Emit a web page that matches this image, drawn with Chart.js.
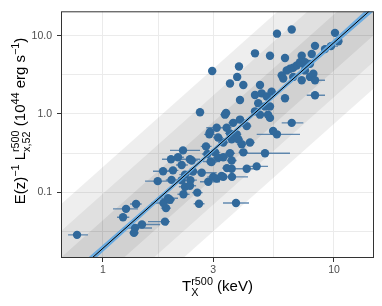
<!DOCTYPE html>
<html>
<head>
<meta charset="utf-8">
<script src="https://cdn.jsdelivr.net/npm/chart.js@4.4.1/dist/chart.umd.min.js"></script>
<style>
  html, body { margin: 0; padding: 0; background: #fff; }
  #wrap { width: 382px; height: 306px; }
</style>
</head>
<body>
<div id="wrap"><canvas id="lxt"></canvas></div>
<script>
// axis breaks (ggplot style: majors labelled, minors grid only)
const xTicks = [1, 3, 10];
const xMinorTicks = [1.732, 5.477];
const yTicks = [0.1, 1, 10];
const yMinorTicks = [0.0316, 0.316, 3.162];

// clusters: temperature (keV), luminosity, and T error bar ends
const tempKeV = [0.772, 1.221, 1.258, 1.390, 1.376, 1.362, 1.475, 1.855, 1.874, 1.827,
  1.950, 1.725, 1.820, 1.970, 2.009, 1.980, 2.112, 2.380, 2.220, 2.191,
  2.265, 2.453, 2.675, 2.390, 2.265, 2.380, 2.560, 2.230, 1.913, 2.604,
  2.792, 2.830, 2.886, 2.925, 2.855, 3.106, 2.970, 2.630, 3.106, 2.906,
  3.150, 3.546, 4.050, 4.783, 3.918, 4.550, 4.860, 5.113, 5.370, 4.700,
  5.027, 4.783, 5.180, 5.284, 3.374, 3.918, 3.660, 4.190, 3.430, 3.546,
  3.790, 3.607, 3.850, 3.985, 3.317, 4.329, 3.054, 3.546, 4.050, 3.317,
  3.150, 2.950, 5.027, 5.660, 2.421, 3.607, 4.190, 4.628, 3.317, 3.607,
  3.000, 2.191, 3.408, 3.765, 3.618, 3.440, 3.260, 4.550, 5.284, 6.137,
  7.249, 8.275, 9.142, 9.706, 10.10, 10.45, 7.370, 7.873, 6.896, 6.660,
  7.127, 6.450, 6.241, 5.938, 6.030, 6.660, 7.492, 7.873, 8.140, 8.275,
  6.137, 8.275, 6.561, 5.284, 4.550, 5.450, 3.879, 3.810, 5.666, 6.561,
  8.009, 7.492, 7.249];
const lumX = [0.0284, 0.0478, 0.0611, 0.0706, 0.0348, 0.0301, 0.0385, 0.0419, 0.0625, 0.0727,
  0.0798, 0.1383, 0.185, 0.264, 0.190, 0.1436, 0.280, 0.264, 0.342, 0.222,
  0.1674, 0.1837, 0.177, 0.1423, 0.1173, 0.1207, 0.0986, 0.0938, 0.0836, 0.0709,
  0.385, 0.308, 0.549, 0.247, 0.1355, 0.149, 3.55, 1.05, 0.667, 0.589,
  0.499, 2.455, 2.35, 2.35, 1.513, 1.749, 1.837, 1.67, 1.93, 1.375,
  1.25, 0.98, 0.98, 0.891, 0.98, 0.848, 0.77, 0.70, 0.667, 0.565,
  0.549, 0.475, 0.475, 0.411, 0.432, 0.432, 0.323, 0.314, 0.323, 0.280,
  0.276, 0.242, 0.314, 0.549, 0.254, 0.254, 0.199, 0.2136, 0.1567, 0.199,
  0.1567, 0.1423, 1.029, 0.0727, 0.1567, 0.203, 0.1612, 5.97, 5.57, 5.21,
  5.57, 7.44, 6.76, 7.38, 10.91, 8.53, 4.38, 4.38, 4.17, 3.90,
  4.60, 3.79, 3.61, 3.12, 2.84, 2.98, 3.61, 2.98, 3.28, 2.70,
  1.59, 1.734, 0.77, 1.25, 1.081, 0.606, 4.05, 2.98, 10.66, 12.07,
  5.85, 4.60, 2.70];
const tempLo = [0.706, 1.15, 1.105, 1.31, 1.22, 1.30, 1.404, 1.566, 1.78, 1.62,
  1.86, 1.520, 1.646, 1.800, 1.90, 1.87, 2.00, 2.05, 1.95, 2.07,
  2.14, 2.31, 2.553, 2.25, 2.13, 2.24, 2.43, 2.10, 1.730, 2.47,
  2.65, 2.68, 2.74, 2.71, 2.63, 2.95, 2.86, 2.53, 2.80, 2.78,
  3.00, 3.42, 3.90, 4.60, 3.77, 4.38, 4.68, 4.92, 5.17, 4.52,
  4.84, 4.60, 4.99, 5.09, 3.22, 3.74, 3.49, 4.00, 3.27, 3.38,
  3.62, 3.44, 3.67, 3.80, 3.15, 4.13, 2.89, 3.37, 3.86, 3.15,
  2.99, 2.80, 4.118, 4.628, 2.28, 3.43, 3.728, 4.24, 3.10, 3.43,
  2.83, 2.06, 3.26, 3.307, 3.307, 3.28, 3.11, 4.42, 5.13, 5.96,
  7.04, 8.04, 8.88, 9.142, 9.81, 10.15, 7.16, 7.65, 6.70, 6.47,
  6.92, 6.27, 6.06, 5.77, 5.86, 6.47, 7.28, 7.65, 7.91, 7.873,
  5.96, 7.619, 5.938, 5.13, 4.42, 5.29, 3.77, 3.70, 5.50, 6.37,
  7.78, 7.28, 7.04];
const tempHi = [0.861, 1.30, 1.418, 1.47, 1.63, 1.43, 1.765, 1.95, 1.97, 2.00,
  2.05, 1.989, 2.050, 2.265, 2.12, 2.10, 2.24, 2.63, 2.63, 2.33,
  2.41, 2.61, 3.106, 2.55, 2.41, 2.53, 2.70, 2.37, 2.112, 2.75,
  2.95, 2.99, 3.05, 3.21, 3.21, 3.28, 3.09, 2.74, 3.37, 3.04,
  3.31, 3.68, 4.21, 4.97, 4.07, 4.73, 5.05, 5.31, 5.58, 4.89,
  5.22, 4.97, 5.38, 5.49, 3.54, 4.11, 3.84, 4.39, 3.60, 3.72,
  3.97, 3.78, 4.04, 4.18, 3.49, 4.54, 3.22, 3.73, 4.25, 3.49,
  3.32, 3.11, 6.45, 7.127, 2.57, 3.79, 4.55, 5.18, 3.55, 3.79,
  3.18, 2.33, 3.56, 4.286, 4.243, 3.61, 3.42, 4.69, 5.44, 6.32,
  7.46, 8.52, 9.41, 10.41, 10.4, 10.76, 7.59, 8.10, 7.10, 6.86,
  7.34, 6.64, 6.43, 6.11, 6.21, 6.86, 7.72, 8.10, 8.38, 9.142,
  6.32, 9.142, 7.37, 5.44, 4.69, 5.61, 3.99, 3.92, 5.84, 6.76,
  8.25, 7.72, 7.46];

// best-fit relation, its confidence ribbon and the 1/2/3 sigma scatter bands
const fitT = [0.6, 16];
const fitL = [0.00499, 28.3];
const band1Up = [0.01143, 64.9];
const band1Lo = [0.00218, 12.36];
const band2Up = [0.0250, 141.9];
const band2Lo = [0.000995, 5.65];
const band3Up = [0.0547, 310.5];
const band3Lo = [0.000455, 2.58];
const ciT = [0.6, 1, 2, 3.5, 6, 10, 16];
const ciUp = [0.00573, 0.02123, 0.1272, 0.5479, 2.296, 9.057, 32.14];
const ciLo = [0.00435, 0.01726, 0.1108, 0.4904, 2.000, 7.464, 24.95];

const FONT = '"Liberation Sans", Arial, sans-serif';
Chart.defaults.font.family = FONT;

const pairs = (xs, ys) => xs.map((x, i) => ({ x: x, y: ys[i] }));

// horizontal error bars as one broken line (null y = gap)
const errSegs = [];
tempKeV.forEach((t, i) => {
  errSegs.push({ x: tempLo[i], y: lumX[i] });
  errSegs.push({ x: tempHi[i], y: lumX[i] });
  errSegs.push({ x: t, y: null });
});

const hidden = { borderColor: 'transparent', borderWidth: 0, pointRadius: 0 };

function band(up, lo, fillColor, order) {
  return [
    { ...hidden, data: pairs(fitT, up), fill: '+1', backgroundColor: fillColor, order: order },
    { ...hidden, data: pairs(fitT, lo), fill: false, order: order },
  ];
}

// draws T^r500_X style text: runs of plain text or stacked sup/sub
function richText(ctx, runs, size, cx, baseY) {
  const small = size * 0.72;
  const big = size + 'px ' + FONT;
  const sm = small + 'px ' + FONT;
  let total = 0;
  const widths = runs.map(r => {
    let w;
    if (r.t !== undefined) { ctx.font = big; w = ctx.measureText(r.t).width; }
    else {
      ctx.font = sm;
      w = Math.max(r.sup ? ctx.measureText(r.sup).width : 0, r.sub ? ctx.measureText(r.sub).width : 0);
    }
    total += w;
    return w;
  });
  let x = cx - total / 2;
  ctx.fillStyle = '#000';
  ctx.textBaseline = 'alphabetic';
  ctx.textAlign = 'left';
  runs.forEach((r, i) => {
    if (r.t !== undefined) { ctx.font = big; ctx.fillText(r.t, x, baseY); }
    else {
      ctx.font = sm;
      if (r.sup) ctx.fillText(r.sup, x, baseY - size * 0.42);
      if (r.sub) ctx.fillText(r.sub, x, baseY + size * 0.3);
    }
    x += widths[i];
  });
}

const frameAndTitles = {
  id: 'frameAndTitles',
  afterDraw(chart) {
    const { ctx, chartArea: a } = chart;
    ctx.save();
    ctx.strokeStyle = '#333333';
    ctx.lineWidth = 1;
    ctx.strokeRect(a.left + 0.5, a.top + 0.5, a.right - a.left - 1, a.bottom - a.top - 1);

    richText(ctx, [{ t: 'T' }, { sup: 'r500', sub: 'X' }, { t: ' (keV)' }], 15, (a.left + a.right) / 2, 291);

    ctx.translate(25, 121);
    ctx.rotate(-Math.PI / 2);
    richText(ctx, [
      { t: 'E(z)' }, { sup: '\u22121' }, { t: ' L' }, { sup: 'r500', sub: 'x,52' },
      { t: ' (10' }, { sup: '44' }, { t: ' erg s' }, { sup: '\u22121' }, { t: ')' },
    ], 15, 0, 0);
    ctx.restore();
  },
};

function setTicks(major, minor) {
  return scale => {
    scale.ticks = major.concat(minor).sort((a, b) => a - b).map(v => ({ value: v }));
  };
}

new Chart(document.getElementById('lxt'), {
  type: 'line',
  data: {
    datasets: [
      ...band(band3Up, band3Lo, 'rgba(0,0,0,0.067)', 10),
      ...band(band2Up, band2Lo, 'rgba(0,0,0,0.059)', 9),
      ...band(band1Up, band1Lo, 'rgba(0,0,0,0.071)', 8),
      {
        data: errSegs, borderColor: 'rgba(62,112,160,0.8)', borderWidth: 1.4,
        pointRadius: 0, spanGaps: false, order: 7,
      },
      {
        data: pairs(tempKeV, lumX), showLine: false, pointRadius: 4.2,
        pointBackgroundColor: '#31699b', pointBorderWidth: 0, order: 6,
      },
      { ...hidden, data: pairs(ciT, ciUp), fill: '+1', backgroundColor: 'rgba(98,168,226,0.92)', order: 5 },
      { ...hidden, data: pairs(ciT, ciLo), fill: false, order: 5 },
      {
        data: pairs(fitT, fitL), borderColor: '#000', borderWidth: 1,
        pointRadius: 0, order: 4,
      },
    ],
  },
  options: {
    responsive: true,
    maintainAspectRatio: false,
    animation: false,
    events: [],
    layout: { padding: { left: 0, right: 8, top: 7, bottom: 0 } },
    plugins: { legend: { display: false }, tooltip: { enabled: false } },
    scales: {
      x: {
        type: 'logarithmic',
        min: 0.658,
        max: 14.9,
        afterBuildTicks: setTicks(xTicks, xMinorTicks),
        afterFit: s => { s.height = 48; },
        border: { display: false },
        grid: {
          color: '#ebebeb',
          tickLength: 4,
          tickColor: c => (xTicks.includes(c.tick.value) ? '#333333' : 'transparent'),
        },
        ticks: {
          autoSkip: false, maxRotation: 0, padding: 2,
          color: '#4d4d4d', font: { size: 10.5 },
          callback: v => (xTicks.includes(v) ? String(v) : ''),
        },
      },
      y: {
        type: 'logarithmic',
        min: 0.01436,
        max: 20.6,
        afterBuildTicks: setTicks(yTicks, yMinorTicks),
        afterFit: s => { s.width = 61; },
        border: { display: false },
        grid: {
          color: '#ebebeb',
          tickLength: 4,
          tickColor: c => (yTicks.includes(c.tick.value) ? '#333333' : 'transparent'),
        },
        ticks: {
          autoSkip: false, padding: 5,
          color: '#4d4d4d', font: { size: 10.5 },
          callback: v => (yTicks.includes(v) ? v.toFixed(1) : ''),
        },
      },
    },
  },
  plugins: [frameAndTitles],
});
</script>
</body>
</html>
